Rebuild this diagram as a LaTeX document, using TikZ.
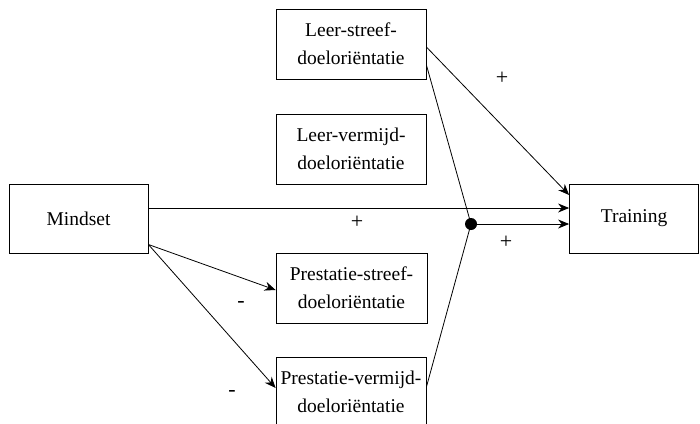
\documentclass[tikz,border=0pt]{standalone}
\usepackage{fontspec}
\setmainfont{Liberation Serif}
\usetikzlibrary{arrows.meta}
\begin{document}
\begin{tikzpicture}[x=1pt,y=-1pt,
  box/.style={draw,line width=0.8pt,inner sep=0pt,align=center,font=\fontsize{19.5}{28}\selectfont},
  conn/.style={line width=0.8pt},
  arr/.style={conn,-{Stealth[length=11pt,width=9pt]}},
  lab/.style={font=\fontsize{22}{24}\selectfont}]
\useasboundingbox (0,0) rectangle (700,423);
\clip (0,0) rectangle (700,423);
\node[box,minimum width=139pt,minimum height=69pt] (m) at (78.5,218.5) {Mindset};
\node[box,minimum width=129pt,minimum height=69pt] (t) at (634,218.5) {Training};
\node[box,minimum width=150pt,minimum height=70pt] (ls) at (351,44) {Leer-streef-\\doeloriëntatie};
\node[box,minimum width=150pt,minimum height=70pt] (lv) at (351,149) {Leer-vermijd-\\doeloriëntatie};
\node[box,minimum width=151pt,minimum height=70pt] (ps) at (351.5,288) {Prestatie-streef-\\doeloriëntatie};
\node[box,minimum width=150pt,minimum height=70pt] (pv) at (351,392) {Prestatie-vermijd-\\doeloriëntatie};
\node[circle,fill,inner sep=0pt,minimum size=12pt] (j) at (471,224) {};
\draw[arr] ([yshift=10.5pt]m.east) -- ([yshift=10.5pt]t.west);
\draw[arr] (j.center) -- ([yshift=-5.5pt]t.west);
\draw[arr] ([yshift=-3pt]ls.east) -- ([yshift=23.5pt]t.west);
\draw[conn] ([yshift=-21pt]ls.east) -- (j.center);
\draw[conn] ([yshift=5pt]pv.east) -- (j.center);
\draw[arr] ([yshift=-26pt]m.east) -- ([yshift=-2pt]ps.west);
\draw[arr] ([yshift=-26pt]m.east) -- ([yshift=4pt]pv.west);
\node[lab] (p1) at (502,78) {+};
\node[lab] (p2) at (357,222) {+};
\node[lab] (p3) at (506,242) {+};
\node[lab] (n1) at (241,304) {-};
\node[lab] (n2) at (232,393) {-};
\end{tikzpicture}
\end{document}
